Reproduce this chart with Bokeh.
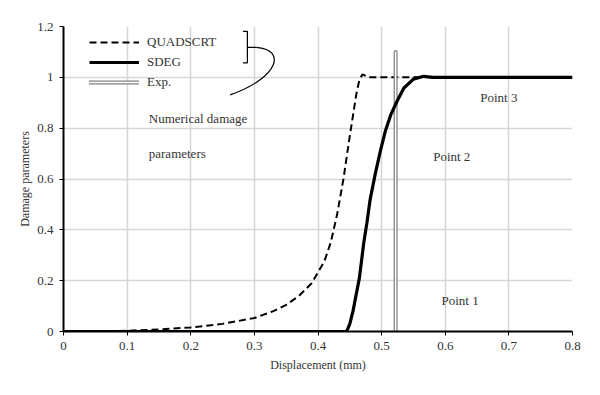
from bokeh.plotting import figure
from bokeh.models import Range1d, FixedTicker, Legend, LegendItem, Label
from bokeh.embed import file_html
from bokeh.resources import INLINE

# ---- data ----
quad_x = [0, 0.05, 0.1, 0.15, 0.2, 0.25, 0.3, 0.33, 0.35, 0.37, 0.39, 0.40, 0.41, 0.42,
          0.43, 0.44, 0.45, 0.46, 0.465, 0.47, 0.48, 0.5, 0.53, 0.56]
quad_y = [0, 0.001, 0.003, 0.008, 0.016, 0.03, 0.053, 0.08, 0.105, 0.14, 0.19, 0.233, 0.276, 0.35,
          0.46, 0.6, 0.77, 0.93, 0.99, 1.012, 1.0, 1.0, 1.0, 1.0]

sdeg_x = [0, 0.43, 0.445, 0.45, 0.455, 0.465, 0.472, 0.477, 0.482, 0.49, 0.498, 0.506,
          0.514, 0.524, 0.535, 0.55, 0.566, 0.58, 0.8]
sdeg_y = [0, 0, 0, 0.03, 0.08, 0.21, 0.35, 0.43, 0.52, 0.62, 0.71, 0.79,
          0.85, 0.905, 0.958, 0.993, 1.004, 1.0, 1.0]

exp_x = [0.522, 0.522]
exp_y = [0, 1.1]

x_ticks = [0, 0.1, 0.2, 0.3, 0.4, 0.5, 0.6, 0.7, 0.8]
x_tick_labels = ["0", "0.1", "0.2", "0.3", "0.4", "0.5", "0.6", "0.7", "0.8"]
y_ticks = [0, 0.2, 0.4, 0.6, 0.8, 1.0, 1.2]
y_tick_labels = ["0", "0.2", "0.4", "0.6", "0.8", "1", "1.2"]

point_labels = ["Point 1", "Point 2", "Point 3"]
point_label_x = [0.594, 0.581, 0.655]
point_label_y = [0.121, 0.688, 0.921]

note_lines = ["Numerical damage", "parameters"]
note_x = [0.134, 0.134]
note_y = [0.837, 0.70]

brace_x = [0.282, 0.289, 0.289, 0.282]
brace_y = [1.181, 1.181, 1.057, 1.057]
brace_tip_x = [0.289, 0.303]
brace_tip_y = [1.118, 1.118]

FONT = "Liberation Serif"
TXT = "#333333"

p = figure(width=600, height=395, output_backend="svg", toolbar_location=None,
           x_range=Range1d(0, 0.8), y_range=Range1d(0, 1.2),
           min_border_left=63, min_border_right=28, min_border_top=26, min_border_bottom=64)
p.outline_line_color = None
p.background_fill_color = "white"

for ax in (p.xaxis[0], p.yaxis[0]):
    ax.axis_line_color = "black"
    ax.axis_line_width = 2
    ax.major_tick_line_color = "black"
    ax.major_tick_line_width = 1
    ax.major_tick_in = 0
    ax.major_tick_out = 4
    ax.minor_tick_line_color = None
    ax.major_label_text_font = FONT
    ax.major_label_text_font_size = "13px"
    ax.major_label_text_color = TXT
    ax.axis_label_text_font = FONT
    ax.axis_label_text_font_size = "12px"
    ax.axis_label_text_font_style = "normal"
    ax.axis_label_text_color = TXT

p.xaxis.ticker = FixedTicker(ticks=x_ticks)
p.yaxis.ticker = FixedTicker(ticks=y_ticks)
p.xaxis.major_label_overrides = {t: l for t, l in zip(x_ticks, x_tick_labels)}
p.yaxis.major_label_overrides = {t: l for t, l in zip(y_ticks, y_tick_labels)}
p.xaxis.axis_label = "Displacement (mm)"
p.yaxis.axis_label = "Damage parameters"
p.xaxis.major_label_standoff = 6
p.yaxis.major_label_standoff = 6
p.xaxis.axis_label_standoff = 5
p.yaxis.axis_label_standoff = 2

p.xgrid.grid_line_color = "#d6d6d6"
p.ygrid.grid_line_color = "#d6d6d6"
p.xgrid.grid_line_width = 1.5
p.ygrid.grid_line_width = 1.5

r_quad = p.line(quad_x, quad_y, line_color="black", line_width=2, line_dash="7 4")
r_exp_o = p.line(exp_x, exp_y, line_color="#808080", line_width=4, line_cap="round")
r_exp_i = p.line(exp_x, exp_y, line_color="white", line_width=1.5, line_cap="round")
r_sdeg = p.line(sdeg_x, sdeg_y, line_color="black", line_width=3.2)

# annotation brace and curved pointer
p.line(brace_x, brace_y, line_color="black", line_width=1.2)
p.line(brace_tip_x, brace_tip_y, line_color="black", line_width=1.2)
p.bezier(x0=[brace_tip_x[1]], y0=[brace_tip_y[1]], x1=[0.262], y1=[0.931],
         cx0=[0.35], cy0=[1.11], cx1=[0.34], cy1=[1.0],
         line_color="black", line_width=1.2)

for t, x, y in zip(note_lines, note_x, note_y):
    p.add_layout(Label(x=x, y=y, text=t, text_font=FONT, text_font_size="13px",
                       text_color=TXT, text_baseline="middle"))
for t, x, y in zip(point_labels, point_label_x, point_label_y):
    p.add_layout(Label(x=x, y=y, text=t, text_font=FONT, text_font_size="13px",
                       text_color=TXT, text_baseline="middle"))

legend = Legend(items=[LegendItem(label="QUADSCRT", renderers=[r_quad]),
                       LegendItem(label="SDEG", renderers=[r_sdeg]),
                       LegendItem(label="Exp.", renderers=[r_exp_o, r_exp_i])],
                location=(26, 239), orientation="vertical")
legend.border_line_color = None
legend.background_fill_alpha = 0
legend.padding = 0
legend.margin = 0
legend.spacing = 0
legend.glyph_width = 50
legend.glyph_height = 20
legend.label_height = 20
legend.label_standoff = 8
legend.label_text_font = FONT
legend.label_text_font_size = "13px"
legend.label_text_color = TXT
p.add_layout(legend, "center")

open("out.html", "w").write(file_html(p, INLINE))
